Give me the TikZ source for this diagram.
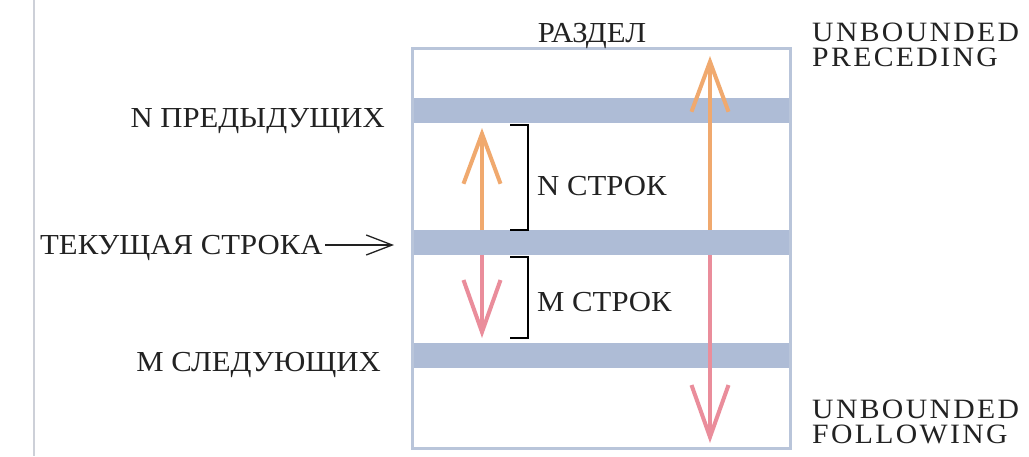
\documentclass[tikz,border=0pt]{standalone}
\usepackage{fontspec}
\setmainfont{Liberation Serif}[FakeStretch=1.06]
\newfontfamily\spacedfont{Liberation Serif}[FakeStretch=1.06,LetterSpace=8.5]
\usetikzlibrary{arrows.meta}
\definecolor{bandblue}{HTML}{AEBCD6}
\definecolor{frameblue}{HTML}{B9C5DA}
\definecolor{rulegray}{HTML}{CDD0D8}
\definecolor{uparrow}{HTML}{F0A96E}
\definecolor{downarrow}{HTML}{EA8D9B}
\definecolor{ink}{HTML}{222222}
\newcommand{\twolines}[2]{\begin{tabular}[t]{@{}l@{}}#1\\#2\end{tabular}}
\tikzset{
  lbl/.style={inner sep=0pt, text=ink, font=\fontsize{29}{29}\selectfont},
  keyword/.style={lbl, font=\fontsize{28}{24}\spacedfont},
  band/.style={fill=bandblue, draw=none},
  uprange/.style={draw=uparrow, line width=4pt,
    -{Straight Barb[length=50pt,width=37pt,line width=4pt]}},
  downrange/.style={draw=downarrow, line width=4pt,
    -{Straight Barb[length=52pt,width=37pt,line width=4pt]}},
  brace/.style={draw=black, line width=2pt},
  pointer/.style={draw=ink, line width=1.3pt,
    -{Straight Barb[length=26pt,width=20pt,line width=1.3pt]}}
}
\begin{document}
\begin{tikzpicture}[x=1pt,y=-1pt]
\useasboundingbox (0,0) rectangle (1029,456);
\fill[white] (0,0) rectangle (1029,456);

% margin rule on the left
\draw[rulegray, line width=2pt] (34,0) -- (34,456);

% partition frame and its row bands
\fill[band] (412,98) rectangle (790,123);
\fill[band] (412,230) rectangle (790,255);
\fill[band] (412,343) rectangle (790,368);
\draw[frameblue, line width=3pt] (412,48) rectangle (790,448);

% arrow anchors
\coordinate (nStart) at (482,230);
\coordinate (nEnd) at (482,128);
\coordinate (mStart) at (482,255);
\coordinate (mEnd) at (482,338);
\coordinate (upStart) at (710,230);
\coordinate (upEnd) at (710,56);
\coordinate (dnStart) at (710,255);
\coordinate (dnEnd) at (710,443);

\draw[uprange] (nStart) -- (nEnd);
\draw[downrange] (mStart) -- (mEnd);
\draw[uprange] (upStart) -- (upEnd);
\draw[downrange] (dnStart) -- (dnEnd);

% brackets
\draw[brace] (510,125) -- (528,125) -- (528,230) -- (510,230);
\draw[brace] (510,257) -- (528,257) -- (528,338) -- (510,338);

% labels
\node[lbl, anchor=base] (part) at (592,42) {РАЗДЕЛ};
\node[lbl, anchor=base east] (prev) at (385,127) {N ПРЕДЫДУЩИХ};
\node[lbl, anchor=base west] (cur) at (40,254) {ТЕКУЩАЯ СТРОКА};
\node[lbl, anchor=base east] (next) at (381,371) {М СЛЕДУЮЩИХ};
\node[lbl, anchor=base west] (nrows) at (537,195) {N СТРОК};
\node[lbl, anchor=base west] (mrows) at (537,311) {М СТРОК};
\node[keyword, anchor=base west] (ubp) at (812,41) {\twolines{UNBOUNDED}{PRECEDING}};
\node[keyword, anchor=base west] (ubf) at (812,418) {\twolines{UNBOUNDED}{FOLLOWING}};

% pointer to the current row
\coordinate (curFrom) at (325,245);
\coordinate (curTip) at (394,245);
\draw[pointer] (curFrom) -- (curTip);
\end{tikzpicture}
\end{document}
